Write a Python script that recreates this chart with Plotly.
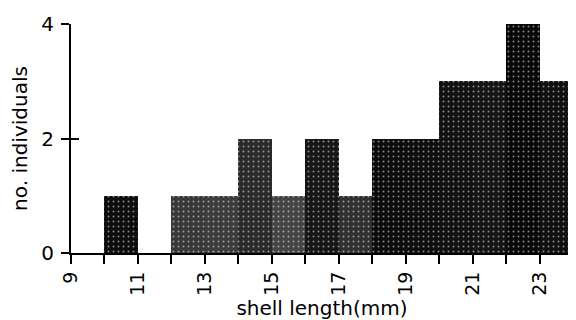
import plotly.graph_objects as go

# data
bin_left = [9, 10, 11, 12, 13, 14, 15, 16, 17, 18, 19, 20, 21, 22, 23]
counts = [0, 1, 0, 1, 1, 2, 1, 2, 1, 2, 2, 3, 3, 4, 3]
x_tick_vals = list(range(9, 25))
x_tick_text = ["9", "", "11", "", "13", "", "15", "", "17", "", "19", "", "21", "", "23", ""]
y_tick_vals = [0, 2, 4]

bar_colors = ["#0a0a0a", "#0d0d0d", "#0a0a0a", "#383838", "#3c3c3c", "#2a2a2a", "#444444",
              "#161616", "#303030", "#0c0c0c", "#0e0e0e", "#111111", "#151515", "#080808", "#101010"]

centers = [b + 0.5 for b in bin_left]

fig = go.Figure()
fig.add_trace(go.Bar(
    x=centers, y=counts, width=1.0,
    marker=dict(color=bar_colors, line=dict(width=0),
                pattern=dict(shape=".", fgcolor="#8a8a8a", size=5, solidity=0.12)),
    showlegend=False,
))
# invisible trace for the second y axis (inside ticks)
fig.add_trace(go.Scatter(x=[9], y=[0], yaxis="y2", mode="markers",
                         marker=dict(opacity=0), showlegend=False, hoverinfo="skip"))

font_family = "DejaVu Sans"
fig.update_layout(
    width=568, height=312,
    margin=dict(l=63, r=3, t=16, b=67),
    plot_bgcolor="white", paper_bgcolor="white",
    font=dict(family=font_family, color="black"),
    bargap=0,
    xaxis=dict(
        range=[9, 24], tickmode="array", tickvals=x_tick_vals, ticktext=x_tick_text,
        tickangle=-90, ticks="outside", ticklen=9, tickwidth=2, tickcolor="black",
        showline=True, linewidth=2, linecolor="black", showgrid=False, zeroline=False,
        tickfont=dict(size=19, family=font_family), automargin=False,
        title=dict(text="shell length(mm)", font=dict(size=20, family=font_family), standoff=2),
    ),
    yaxis=dict(
        range=[0, 4], tickmode="array", tickvals=y_tick_vals,
        ticks="outside", ticklen=8, tickwidth=2, tickcolor="black",
        showline=True, linewidth=2, linecolor="black", showgrid=False, zeroline=False,
        tickfont=dict(size=20, family=font_family), ticklabelstandoff=3, automargin=False,
        title=dict(text="no. individuals", font=dict(size=20, family=font_family), standoff=12),
    ),
    yaxis2=dict(
        range=[0, 4], overlaying="y", side="left", tickmode="array", tickvals=[2, 4],
        ticks="inside", ticklen=8, tickwidth=2, tickcolor="black", automargin=False,
        showticklabels=False, showgrid=False, zeroline=False, showline=False,
    ),
)

fig.write_html("out.html")
